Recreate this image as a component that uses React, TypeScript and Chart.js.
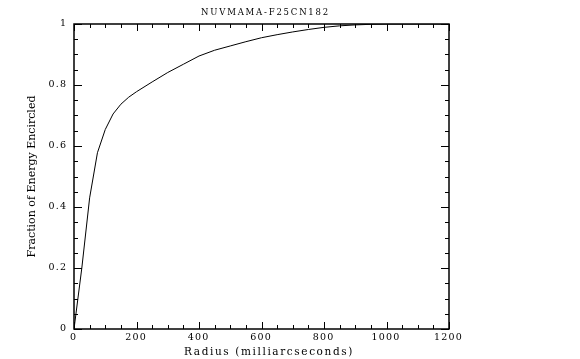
import React, { useEffect, useRef } from "react";
import { Chart, registerables } from "chart.js";

Chart.register(...registerables);

const TITLE = "NUVMAMA-F25CN182";
const X_LABEL = "Radius (milliarcseconds)";
const Y_LABEL = "Fraction of Energy Encircled";

const radius = [0, 25, 50, 75, 100, 125, 150, 175, 200, 250, 300, 350, 400, 450, 500, 550, 600, 650, 700, 750, 800, 850, 900, 950, 1000, 1050, 1100, 1150, 1200];
const fraction = [0, 0.2, 0.43, 0.578, 0.654, 0.705, 0.737, 0.76, 0.778, 0.81, 0.841, 0.868, 0.895, 0.914, 0.928, 0.942, 0.955, 0.965, 0.974, 0.982, 0.989, 0.994, 0.997, 0.999, 1.0, 1.0, 1.0, 1.0, 1.0];

const X_TICKS = ["0", "200", "400", "600", "800", "1000", "1200"];
const Y_TICKS = ["0", "0.2", "0.4", "0.6", "0.8", "1"];

const X_MIN = 0, X_MAX = 1200, X_MAJOR = 200, X_MINOR = 50;
const Y_MIN = 0, Y_MAX = 1, Y_MAJOR = 0.2, Y_MINOR = 0.05;

const FONT = "'DejaVu Serif', 'Liberation Serif', serif";

const frameTicks = {
  id: "frameTicks",
  afterDraw(chart: any) {
    const { ctx, chartArea: a, scales } = chart;
    const xs = scales.x, ys = scales.y;
    ctx.save();
    ctx.strokeStyle = "#000";
    ctx.lineWidth = 1;
    for (let v = X_MIN; v <= X_MAX + 1e-9; v += X_MINOR) {
      const major = Math.abs(v / X_MAJOR - Math.round(v / X_MAJOR)) < 1e-6;
      const len = major ? 7 : 4;
      const px = Math.round(xs.getPixelForValue(v)) + 0.5;
      ctx.beginPath();
      ctx.moveTo(px, a.bottom); ctx.lineTo(px, a.bottom - len);
      ctx.moveTo(px, a.top); ctx.lineTo(px, a.top + len);
      ctx.stroke();
    }
    for (let v = Y_MIN; v <= Y_MAX + 1e-9; v += Y_MINOR) {
      const major = Math.abs(v / Y_MAJOR - Math.round(v / Y_MAJOR)) < 1e-6;
      const len = major ? 8 : 4;
      const py = Math.round(ys.getPixelForValue(v)) + 0.5;
      ctx.beginPath();
      ctx.moveTo(a.left, py); ctx.lineTo(a.left + len, py);
      ctx.moveTo(a.right, py); ctx.lineTo(a.right - len, py);
      ctx.stroke();
    }
    ctx.lineWidth = 1.5;
    ctx.strokeRect(a.left, a.top, a.right - a.left, a.bottom - a.top);
    ctx.fillStyle = "#000";
    ctx.textBaseline = "middle";
    // tick labels
    const sp = 1.2;
    ctx.font = `9.5px ${FONT}`;
    (ctx as any).letterSpacing = `${sp}px`;
    ctx.textAlign = "center";
    X_TICKS.forEach((t) => {
      ctx.fillText(t, xs.getPixelForValue(Number(t)) + sp / 2 - 1, a.bottom + 9);
    });
    ctx.textAlign = "right";
    Y_TICKS.forEach((t) => {
      ctx.fillText(t, a.left - 8 + sp, ys.getPixelForValue(Number(t)));
    });
    // title
    ctx.textAlign = "center";
    ctx.font = `8.5px ${FONT}`;
    (ctx as any).letterSpacing = "1.8px";
    ctx.fillText(TITLE, (a.left + a.right) / 2 + 4, 13);
    // x axis title
    ctx.font = `10.5px ${FONT}`;
    (ctx as any).letterSpacing = "1.6px";
    ctx.fillText(X_LABEL, 269, 352);
    (ctx as any).letterSpacing = "0px";
    ctx.restore();
  },
};

export default function App() {
  const ref = useRef<HTMLCanvasElement>(null);
  useEffect(() => {
    document.body.style.margin = "0";
    const chart = new Chart(ref.current!, {
      type: "line",
      data: {
        datasets: [
          {
            data: radius.map((r, i) => ({ x: r, y: fraction[i] })),
            borderColor: "#000",
            borderWidth: 1,
            pointRadius: 0,
            tension: 0,
            fill: false,
          },
        ],
      },
      options: {
        responsive: false,
        animation: false,
        layout: { padding: { top: 24, right: 131, left: 0, bottom: 0 } },
        plugins: { legend: { display: false }, tooltip: { enabled: false } },
        scales: {
          x: {
            type: "linear",
            min: X_MIN,
            max: X_MAX,
            afterFit: (s: any) => { s.height = 30; },
            grid: { display: false, drawTicks: false },
            border: { display: false },
            ticks: { display: false, stepSize: X_MAJOR },
            title: { display: false },
          },
          y: {
            type: "linear",
            min: Y_MIN,
            max: Y_MAX,
            afterFit: (s: any) => { s.width = 74; },
            grid: { display: false, drawTicks: false },
            border: { display: false },
            ticks: { display: false, stepSize: Y_MAJOR },
            title: { display: true, text: Y_LABEL, color: "#000", font: { family: FONT, size: 11 }, padding: { top: 26, bottom: 0 } },
          },
        },
      },
      plugins: [frameTicks],
    });
    return () => chart.destroy();
  }, []);
  return (
    <div style={{ position: "absolute", left: 0, top: 0, width: 580, height: 359, background: "#fff" }}>
      <canvas ref={ref} width={580} height={359} />
    </div>
  );
}
